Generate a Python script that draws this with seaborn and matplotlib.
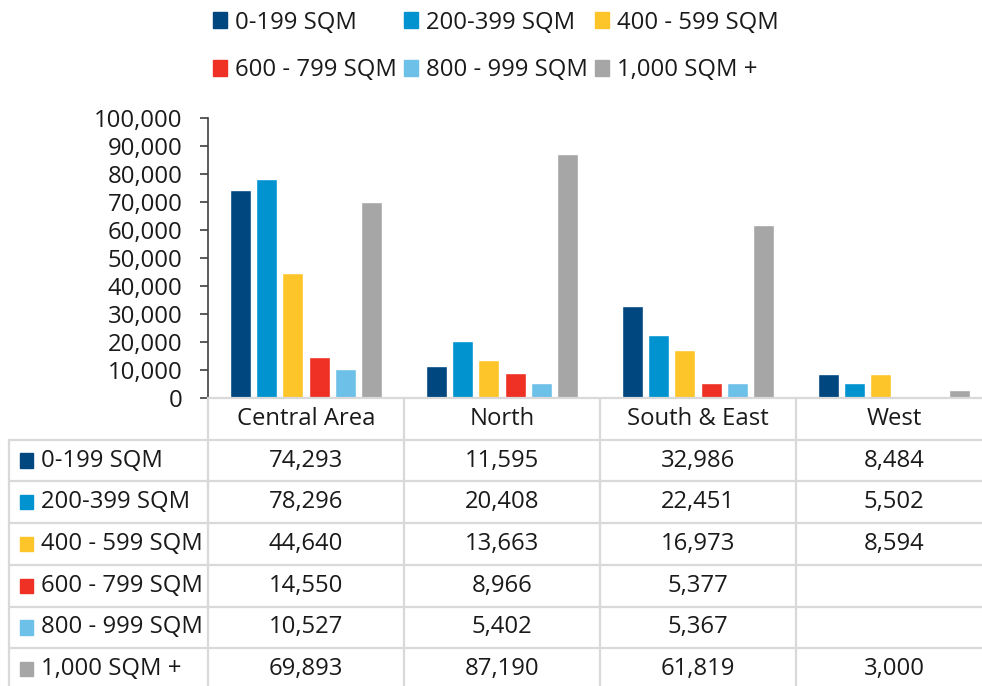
import numpy as np
import pandas as pd
import matplotlib
matplotlib.use('Agg')
import matplotlib.pyplot as plt
import seaborn as sns

# Data
regions = ['Central Area', 'North', 'South & East', 'West']
sizes = ['0-199 SQM', '200-399 SQM', '400 - 599 SQM', '600 - 799 SQM', '800 - 999 SQM', '1,000 SQM +']
sqm_0_199 = [74293, 11595, 32986, 8484]
sqm_200_399 = [78296, 20408, 22451, 5502]
sqm_400_599 = [44640, 13663, 16973, 8594]
sqm_600_799 = [14550, 8966, 5377, np.nan]
sqm_800_999 = [10527, 5402, 5367, np.nan]
sqm_1000_plus = [69893, 87190, 61819, 3000]
yticks = list(range(0, 100001, 10000))

colors = ['#00467f', '#0093d0', '#fdc52a', '#ee3124', '#6dc0e8', '#a6a6a6']

series = [sqm_0_199, sqm_200_399, sqm_400_599, sqm_600_799, sqm_800_999, sqm_1000_plus]
rows = []
for s, vals in zip(sizes, series):
    for r, v in zip(regions, vals):
        rows.append({'region': r, 'size': s, 'value': v})
df = pd.DataFrame(rows)

sns.set_style('white')
plt.rcParams['font.family'] = ['Open Sans', 'DejaVu Sans']
FS = 17.2
txt = '#1a1a1a'
grid_c = '#d9d9d9'

W, H = 982, 686
fig = plt.figure(figsize=(W / 100, H / 100), dpi=100)

x0, x1 = 208, 992
y_top, y_zero = 118, 398
ax = fig.add_axes([x0 / W, (H - y_zero) / H, (x1 - x0) / W, (y_zero - y_top) / H])

sns.barplot(data=df, x='region', y='value', hue='size', order=regions, hue_order=sizes,
            palette=colors, width=0.8, gap=0.2, saturation=1, ax=ax, errorbar=None, legend=False)

ax.set_xlim(-0.5, 3.5)
ax.set_ylim(0, 100000)
ax.set_yticks(yticks)
ax.set_yticklabels([f'{t:,}' for t in yticks], fontsize=FS, color=txt)
ax.set_xticks([])
ax.set_xlabel('')
ax.set_ylabel('')
for sp in ['top', 'right', 'bottom']:
    ax.spines[sp].set_visible(False)
ax.spines['left'].set_color('#404040')
ax.spines['left'].set_linewidth(1.2)
ax.tick_params(axis='y', direction='out', length=5.8, width=1.2, color='#404040', pad=12.5, left=True)

# Legend (row-wise order in 3 columns)
handles = [plt.Rectangle((0, 0), 1, 1, color=c) for c in colors]
order = [0, 3, 1, 4, 2, 5]
leg = fig.legend([handles[i] for i in order], [sizes[i] for i in order], ncol=3,
                 loc='upper left', bbox_to_anchor=(203 / W, 1 - 1 / H), frameon=False,
                 fontsize=FS, handlelength=0.62, handleheight=0.62, handletextpad=0.3,
                 columnspacing=0.3, labelspacing=1.0, borderaxespad=0)
for t in leg.get_texts():
    t.set_color(txt)

# Data table below the plot
tx0, ty_top, ty_bot = 9, 398, 690
tax = fig.add_axes([tx0 / W, (H - ty_bot) / H, (x1 - tx0) / W, (ty_bot - ty_top) / H])
first_w = (x0 - tx0) / ((x1 - x0) / 4)
tax.set_xlim(-first_w, 4)
nrows = len(sizes) + 1
tax.set_ylim(nrows, 0)
tax.axis('off')

lw = 1.6
# horizontal lines
tax.plot([0, 4], [0, 0], color=grid_c, lw=lw, clip_on=False)
for i in range(1, nrows + 1):
    tax.plot([-first_w, 4], [i, i], color=grid_c, lw=lw, clip_on=False)
# vertical lines
tax.plot([-first_w, -first_w], [1, nrows], color=grid_c, lw=lw, clip_on=False)
for j in range(0, 4):
    tax.plot([j, j], [0, nrows], color=grid_c, lw=lw, clip_on=False)

for j, r in enumerate(regions):
    tax.text(j + 0.5, 0.5, r, ha='center', va='center', fontsize=FS, color=txt)

sq_w = 0.065
for i, (s, vals, c) in enumerate(zip(sizes, series, colors)):
    yc = i + 1.5
    tax.add_patch(plt.Rectangle((-first_w + 0.058, yc - 0.17), sq_w, 0.34, color=c, clip_on=False))
    tax.text(-first_w + 0.058 + sq_w + 0.04, yc, s, ha='left', va='center', fontsize=FS, color=txt)
    for j, v in enumerate(vals):
        if not np.isnan(v):
            tax.text(j + 0.5, yc, f'{int(v):,}', ha='center', va='center', fontsize=FS, color=txt)

fig.savefig('out.png', dpi=100)
